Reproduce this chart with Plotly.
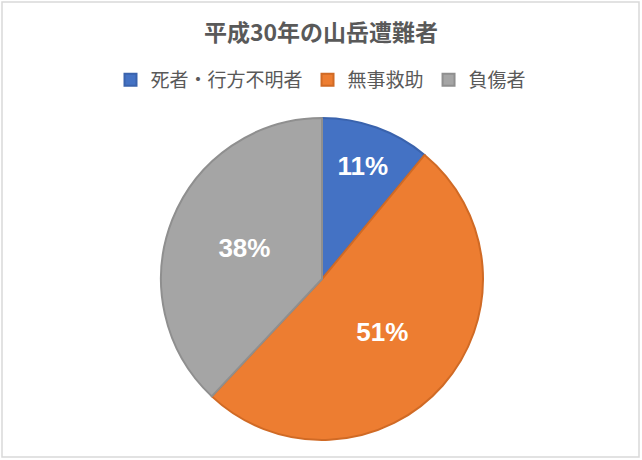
import plotly.graph_objects as go

labels = ["死者・行方不明者", "無事救助", "負傷者"]
shares = [11, 51, 38]
colors = ["#4472C4", "#ED7D31", "#A5A5A5"]
edge_colors = ["#3A63AD", "#D06A25", "#8F8F8F"]

W, H = 642, 460

fig = go.Figure()
fig.add_trace(go.Pie(
    labels=labels,
    values=shares,
    sort=False,
    direction="clockwise",
    rotation=0,
    domain=dict(x=[161 / W, 483 / W], y=[(H - 440) / H, (H - 118) / H]),
    marker=dict(colors=colors, line=dict(color=edge_colors, width=2)),
    texttemplate="%{value}%",
    textposition="inside",
    insidetextorientation="horizontal",
    textfont=dict(family="Liberation Sans, Arial, sans-serif", size=26, color="white", weight="bold"),
    hoverinfo="label+percent",
))

# outer frame around the chart area
fig.add_shape(type="rect", xref="paper", yref="paper",
              x0=2 / W, x1=1 - 3 / W, y0=3 / H, y1=1 - 2 / H,
              line=dict(color="#D9D9D9", width=1.5))

fig.update_layout(
    width=W, height=H,
    margin=dict(l=0, r=0, t=0, b=0),
    paper_bgcolor="white",
    title=dict(text="<b>平成30年の山岳遭難者</b>", x=0.5, y=1 - 33 / H, xanchor="center", yanchor="middle",
               font=dict(family="Noto Sans CJK JP", size=23, color="#595959")),
    legend=dict(orientation="h", x=0.5, xanchor="center", y=1 - 80 / H, yanchor="middle",
                font=dict(family="Noto Sans CJK JP", size=19, color="#595959"),
                itemwidth=30, traceorder="normal"),
    showlegend=True,
)

# drop the default page margin so the figure sits at the window's corner
fig.write_html("out.html", config={"displayModeBar": False},
               post_script="document.body.style.margin='0';")
